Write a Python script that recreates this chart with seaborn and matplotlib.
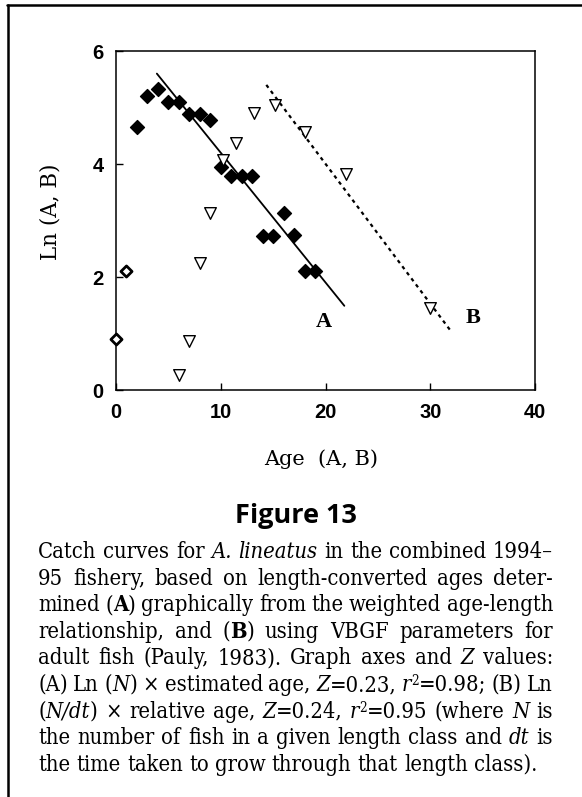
import numpy as np
import pandas as pd
import matplotlib
matplotlib.use("Agg")
import matplotlib.pyplot as plt
from matplotlib.lines import Line2D
import seaborn as sns

# catch curve A: estimated age vs Ln(N)
age_a = [0, 1, 2, 3, 4, 5, 6, 7, 8, 9, 10, 11, 12, 13, 14, 15, 16, 17, 18, 19]
ln_a = [0.90, 2.11, 4.65, 5.21, 5.33, 5.09, 5.09, 4.88, 4.88, 4.77,
        3.94, 3.78, 3.79, 3.79, 2.73, 2.73, 3.13, 2.74, 2.11, 2.11]

# catch curve B: relative age vs Ln(N/dt)
age_b = [6.0, 7.0, 8.0, 9.0, 10.2, 11.5, 13.2, 15.2, 18.0, 22.0, 30.0]
ln_b = [0.27, 0.86, 2.25, 3.13, 4.07, 4.37, 4.91, 5.04, 4.57, 3.83, 1.45]

# fitted regression lines (end points)
fit_a_x = [3.9, 21.8]
fit_a_y = [5.60, 1.49]
fit_b_x = [14.35, 31.9]
fit_b_y = [5.40, 1.06]

x_ticks = [0, 10, 20, 30, 40]
y_ticks = [0, 2, 4, 6]

caption = [
    [("Catch curves for ", "n"), ("A. lineatus", "i"), (" in the combined 1994\u2013", "n")],
    [("95 fishery, based on length-converted ages deter-", "n")],
    [("mined (", "n"), ("A", "b"), (") graphically from the weighted age-length", "n")],
    [("relationship, and (", "n"), ("B", "b"), (") using VBGF parameters for", "n")],
    [("adult fish (Pauly, 1983). Graph axes and ", "n"), ("Z", "i"), (" values:", "n")],
    [("(A) Ln (", "n"), ("N", "i"), (") \u00d7 estimated age, ", "n"), ("Z", "i"), ("=0.23, ", "n"),
     ("r", "i"), ("2", "s"), ("=0.98; (B) Ln", "n")],
    [("(", "n"), ("N/dt", "i"), (") \u00d7 relative age, ", "n"), ("Z", "i"), ("=0.24, ", "n"),
     ("r", "i"), ("2", "s"), ("=0.95 (where ", "n"), ("N", "i"), (" is", "n")],
    [("the number of fish in a given length class and ", "n"), ("dt", "i"), (" is", "n")],
    [("the time taken to grow through that length class).", "n")],
]

sns.set_style("ticks")
serif = ["DejaVu Serif"]
sans = ["Liberation Sans", "DejaVu Sans"]
plt.rcParams["font.family"] = sans
plt.rcParams["text.color"] = "black"
plt.rcParams["xtick.color"] = "black"
plt.rcParams["ytick.color"] = "black"
plt.rcParams["axes.edgecolor"] = "black"

W, H = 582, 797
fig = plt.figure(figsize=(W / 100, H / 100), dpi=100)
ax = fig.add_axes([116 / W, 1 - 390 / H, 419 / W, 339 / H])

df_a = pd.DataFrame({"age": age_a, "ln": ln_a})
df_b = pd.DataFrame({"age": age_b, "ln": ln_b})

sns.lineplot(x=fit_a_x, y=fit_a_y, ax=ax, color="black", lw=1.3)
sns.lineplot(x=fit_b_x, y=fit_b_y, ax=ax, color="black", lw=1.6,
             linestyle=(0, (1.6, 1.8)))

young = df_a[df_a["age"] < 2]
older = df_a[df_a["age"] >= 2]
sns.scatterplot(data=older, x="age", y="ln", ax=ax, marker="D", s=50,
                color="black", edgecolor="black", linewidth=1, zorder=3,
                clip_on=False)
sns.scatterplot(data=young, x="age", y="ln", ax=ax, marker="D", s=32,
                color="white", edgecolor="black", linewidth=2, zorder=3,
                clip_on=False)
sns.scatterplot(data=df_b, x="age", y="ln", ax=ax, marker="v", s=70,
                color="white", edgecolor="black", linewidth=1, zorder=3,
                clip_on=False)

ax.text(19.8, 1.2, "A", family=["Liberation Serif"], fontweight="bold",
        fontsize=16, ha="center", va="center")
ax.text(34.1, 1.27, "B", family=["Liberation Serif"], fontweight="bold",
        fontsize=16, ha="center", va="center")

ax.set_xlim(0, 40)
ax.set_ylim(0, 6)
ax.set_xticks(x_ticks)
ax.set_yticks(y_ticks)
ax.tick_params(direction="in", length=5, width=1, labelsize=14.5, pad=9,
               colors="black")
for lab in ax.get_xticklabels() + ax.get_yticklabels():
    lab.set_fontweight("bold")
ax.set_xlabel("")
ax.set_ylabel("")
for sp in ax.spines.values():
    sp.set_linewidth(1.1)
    sp.set_color("black")

# axis titles
fig.text(321 / W, 1 - 465 / H, "Age  (A, B)", family=serif, fontsize=15,
         ha="center", va="baseline")
fig.text(50 / W, 1 - 212 / H, "Ln (A, B)", family=serif, fontsize=15.5,
         ha="center", va="center", rotation=90)

fig.text(296 / W, 1 - 523 / H, "Figure 13", family=["Open Sans"],
         fontweight="bold", fontsize=19.5, ha="center", va="baseline")

# frame lines of the page
fig.add_artist(Line2D([7 / W, 1.0], [1 - 5 / H, 1 - 5 / H], color="black",
                      lw=1.8, transform=fig.transFigure))
fig.add_artist(Line2D([8 / W, 8 / W], [1 - 5 / H, 0.0], color="black",
                      lw=1.8, transform=fig.transFigure))

# justified caption
renderer = fig.canvas.get_renderer()
x_left, x_right = 38, 553
base0, step = 558, 26.6


def style_kw(st, size):
    kw = dict(family=serif, fontsize=size, stretch="condensed")
    if st == "i":
        kw["style"] = "italic"
    if st == "b":
        kw["fontweight"] = "bold"
    if st == "s":
        kw["fontsize"] = size * 0.62
    return kw


def split_words(segs):
    words = [[]]
    for txt, st in segs:
        for k, p in enumerate(txt.split(" ")):
            if k > 0:
                words.append([])
            if p:
                words[-1].append((p, st))
    return [w for w in words if w]


def seg_width(txt, st, size):
    t = fig.text(0, 0, txt, **style_kw(st, size))
    w = t.get_window_extent(renderer).width
    t.remove()
    return w


def natural_width(words, size, space):
    return sum(seg_width(p, st, size) for w in words for p, st in w) + space * (len(words) - 1)


size = 16.0
space = seg_width("a a", "n", size) - seg_width("aa", "n", size)
lines = [split_words(s) for s in caption]
widest = max(natural_width(w, size, space * 0.7) for w in lines[:-1])
if widest > (x_right - x_left) * 0.99:
    size = size * (x_right - x_left) * 0.99 / widest
    space = seg_width("a a", "n", size) - seg_width("aa", "n", size)

for i, words in enumerate(lines):
    y = base0 + step * i
    widths = [[seg_width(p, st, size) for p, st in w] for w in words]
    total = sum(sum(w) for w in widths)
    last = i == len(lines) - 1
    gap = space if last else (x_right - x_left - total) / (len(words) - 1)
    x = x_left
    for w, ws in zip(words, widths):
        for (p, st), pw in zip(w, ws):
            dy = -6 if st == "s" else 0
            fig.text(x / W, 1 - (y + dy) / H, p, ha="left", va="baseline",
                     **style_kw(st, size))
            x += pw
        x += gap

fig.savefig("out.png", dpi=100)
